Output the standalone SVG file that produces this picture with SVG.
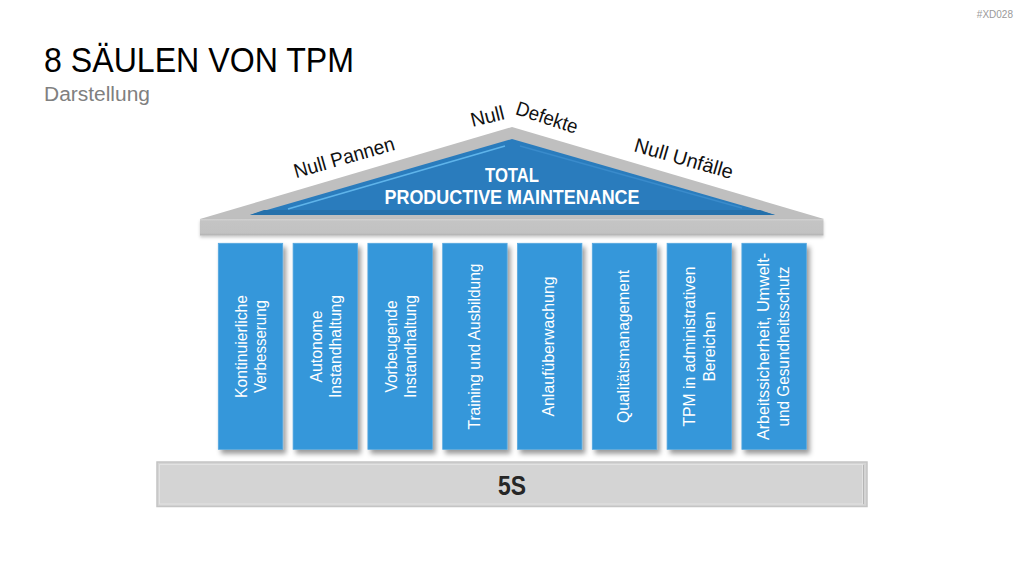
<svg xmlns="http://www.w3.org/2000/svg" width="1024" height="576" viewBox="0 0 1024 576">
  <defs>
    <filter id="shadow" x="-20%" y="-10%" width="150%" height="130%">
      <feDropShadow dx="3" dy="4" stdDeviation="2.5" flood-color="#000" flood-opacity="0.4"/>
    </filter>
    <filter id="softshadow" x="-5%" y="-20%" width="110%" height="160%">
      <feDropShadow dx="0" dy="2" stdDeviation="1.5" flood-color="#000" flood-opacity="0.2"/>
    </filter>
    <linearGradient id="beamGrad" x1="0" y1="0" x2="0" y2="1">
      <stop offset="0" stop-color="#d2d2d2"/>
      <stop offset="0.15" stop-color="#c4c4c4"/>
      <stop offset="0.85" stop-color="#c2c2c2"/>
      <stop offset="1" stop-color="#b0b0b0"/>
    </linearGradient>
  </defs>
  <style>
    .title { font-family: "Liberation Sans", Arial, sans-serif; font-size: 35px; fill: #000; }
    .sub { font-family: "Liberation Sans", Arial, sans-serif; font-size: 20px; fill: #808080; }
    .tag { font-family: "Liberation Sans", Arial, sans-serif; font-size: 10px; fill: #9a9a9a; }
    .roofLbl { font-family: "Liberation Sans", Arial, sans-serif; font-size: 20px; fill: #111; }
    .tpm { font-family: "Liberation Sans", Arial, sans-serif; font-size: 20px; font-weight: bold; fill: #fff; text-anchor: middle; }
    .pillar { fill: #3497da; stroke: #55a7df; stroke-width: 0.8; }
    .ptxt { font-family: "Liberation Sans", Arial, sans-serif; font-size: 16px; fill: #fff; text-anchor: middle; }
    .base { fill: #d4d4d4; stroke: #c4c4c4; stroke-width: 1.5; }
    .basetxt { font-family: "Liberation Sans", Arial, sans-serif; font-size: 28px; font-weight: bold; fill: #262626; text-anchor: middle; }
  </style>

  <!-- Header -->
  <g id="header">
    <text class="title" x="44" y="72" textLength="310" lengthAdjust="spacingAndGlyphs">8 SÄULEN VON TPM</text>
    <text class="sub" x="44" y="101" textLength="106" lengthAdjust="spacingAndGlyphs">Darstellung</text>
    <text class="tag" x="1013" y="18" text-anchor="end">#XD028</text>
  </g>

  <!-- Roof -->
  <g id="roof">
    <polygon points="200,219 512,127 824,219" fill="#bfbfbf"/>
    <polygon points="250,215 512,139 775,215" fill="#2a7cbd"/>
    <polygon points="264,210 760,210 775,215 250,215" fill="#2470ab"/>
    <line x1="288" y1="209" x2="505" y2="146" stroke="#5fb4ea" stroke-width="1.6"/>
    <line x1="520" y1="146" x2="742" y2="208" stroke="#3a8bcb" stroke-width="1.4"/>
    <rect x="200" y="219" width="623.5" height="16.5" fill="url(#beamGrad)" filter="url(#softshadow)"/>
    <text class="tpm" x="512" y="182" textLength="54" lengthAdjust="spacingAndGlyphs">TOTAL</text>
    <text class="tpm" x="512" y="204" textLength="255" lengthAdjust="spacingAndGlyphs">PRODUCTIVE MAINTENANCE</text>
  </g>

  <!-- Roof labels -->
  <g id="roof-labels">
    <text class="roofLbl" text-anchor="middle" transform="translate(346,164) rotate(-16)" textLength="104" lengthAdjust="spacingAndGlyphs">Null Pannen</text>
    <text class="roofLbl" text-anchor="middle" transform="translate(489,123) rotate(-14)" textLength="34" lengthAdjust="spacingAndGlyphs">Null</text>
    <text class="roofLbl" text-anchor="middle" transform="translate(545,124) rotate(18)" textLength="64" lengthAdjust="spacingAndGlyphs">Defekte</text>
    <text class="roofLbl" text-anchor="middle" transform="translate(682,165) rotate(16)" textLength="102" lengthAdjust="spacingAndGlyphs">Null Unfälle</text>
  </g>

  <!-- Pillars -->
  <g id="pillar-1">
    <rect class="pillar" x="218.3" y="243.3" width="64.4" height="206" filter="url(#shadow)"/>
    <g transform="translate(250.5,346.5) rotate(-90)">
      <text class="ptxt" x="0" y="-3.5" textLength="103" lengthAdjust="spacingAndGlyphs">Kontinuierliche</text>
      <text class="ptxt" x="0" y="15.5" textLength="93" lengthAdjust="spacingAndGlyphs">Verbesserung</text>
    </g>
  </g>
  <g id="pillar-2">
    <rect class="pillar" x="293.1" y="243.3" width="64.4" height="206" filter="url(#shadow)"/>
    <g transform="translate(325.3,346.5) rotate(-90)">
      <text class="ptxt" x="0" y="-3.5" textLength="72" lengthAdjust="spacingAndGlyphs">Autonome</text>
      <text class="ptxt" x="0" y="15.5" textLength="103" lengthAdjust="spacingAndGlyphs">Instandhaltung</text>
    </g>
  </g>
  <g id="pillar-3">
    <rect class="pillar" x="367.9" y="243.3" width="64.4" height="206" filter="url(#shadow)"/>
    <g transform="translate(400.1,346.5) rotate(-90)">
      <text class="ptxt" x="0" y="-3.5" textLength="92" lengthAdjust="spacingAndGlyphs">Vorbeugende</text>
      <text class="ptxt" x="0" y="15.5" textLength="103" lengthAdjust="spacingAndGlyphs">Instandhaltung</text>
    </g>
  </g>
  <g id="pillar-4">
    <rect class="pillar" x="442.7" y="243.3" width="64.4" height="206" filter="url(#shadow)"/>
    <g transform="translate(474.9,346.5) rotate(-90)">
      <text class="ptxt" x="0" y="5" textLength="166" lengthAdjust="spacingAndGlyphs">Training und Ausbildung</text>
    </g>
  </g>
  <g id="pillar-5">
    <rect class="pillar" x="517.5" y="243.3" width="64.4" height="206" filter="url(#shadow)"/>
    <g transform="translate(549.7,346.5) rotate(-90)">
      <text class="ptxt" x="0" y="4" textLength="140" lengthAdjust="spacingAndGlyphs">Anlaufüberwachung</text>
    </g>
  </g>
  <g id="pillar-6">
    <rect class="pillar" x="592.3" y="243.3" width="64.4" height="206" filter="url(#shadow)"/>
    <g transform="translate(624.5,346.5) rotate(-90)">
      <text class="ptxt" x="0" y="4" textLength="153" lengthAdjust="spacingAndGlyphs">Qualitätsmanagement</text>
    </g>
  </g>
  <g id="pillar-7">
    <rect class="pillar" x="667.1" y="243.3" width="64.4" height="206" filter="url(#shadow)"/>
    <g transform="translate(699.3,346.5) rotate(-90)">
      <text class="ptxt" x="0" y="-4" textLength="160" lengthAdjust="spacingAndGlyphs">TPM in administrativen</text>
      <text class="ptxt" x="0" y="16" textLength="70" lengthAdjust="spacingAndGlyphs">Bereichen</text>
    </g>
  </g>
  <g id="pillar-8">
    <rect class="pillar" x="741.9" y="243.3" width="64.4" height="206" filter="url(#shadow)"/>
    <g transform="translate(774.1,346.5) rotate(-90)">
      <text class="ptxt" x="0" y="-5" textLength="187" lengthAdjust="spacingAndGlyphs">Arbeitssicherheit, Umwelt-</text>
      <text class="ptxt" x="0" y="15" textLength="160" lengthAdjust="spacingAndGlyphs">und Gesundheitsschutz</text>
    </g>
  </g>

  <!-- Base -->
  <g id="base-5s">
    <rect class="base" x="157" y="462" width="710" height="44.5"/>
    <rect x="159.5" y="464.5" width="703" height="39.5" fill="none" stroke="#e2e2e2" stroke-width="1"/>
    <line x1="863.5" y1="465" x2="863.5" y2="504" stroke="#b5b5b5" stroke-width="1"/>
    <text class="basetxt" x="512" y="495" textLength="28" lengthAdjust="spacingAndGlyphs">5S</text>
  </g>

  <g id="connectors"/>
</svg>
